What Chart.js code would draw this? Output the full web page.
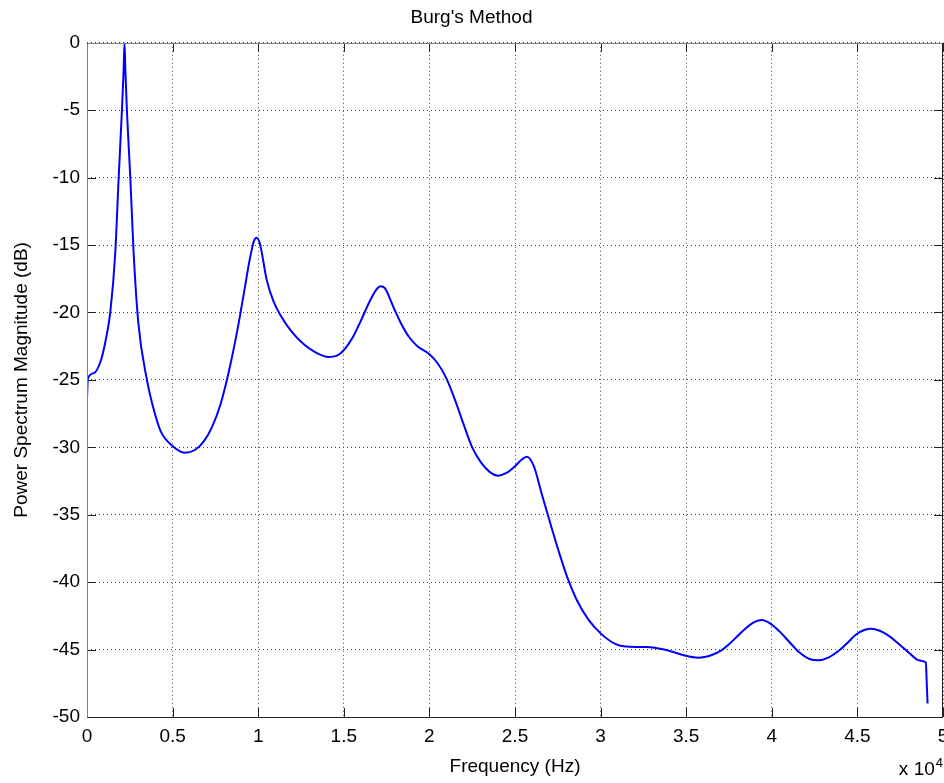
<!DOCTYPE html>
<html>
<head>
<meta charset="utf-8">
<title>Burg's Method</title>
<script src="https://cdn.jsdelivr.net/npm/chart.js@4.4.1/dist/chart.umd.min.js"></script>
<style>
  html, body { margin: 0; padding: 0; background: #fff; }
  #grafico { display: block; }
</style>
</head>
<body>
<canvas id="grafico" width="944" height="783"></canvas>
<script>
// frequencia em Hz (eixo mostrado em x 10^4)
const frequencias = [
    0, 50, 400, 800, 1100, 1360, 1650, 1850, 2040, 2140, 2190, 2240, 2330, 2530, 2720,
    3000, 3500, 3900, 4300, 5000, 5700, 6300, 6800, 7300, 7800, 8300, 8800, 9200, 9500, 9750,
    9900, 10100, 10500, 10900, 11300, 12000, 12700, 13400, 14100, 14600, 15000, 15500,
    16000, 16500, 16900, 17150, 17400, 17900, 18300, 18800, 19300, 20000, 20500, 21000, 21500,
    22000, 22500, 23000, 23500, 24000, 24500, 25000, 25400, 25700, 26100, 26550, 27100,
    27600, 28100, 28600, 29300, 30000, 30600, 31100, 32000, 32700, 33300, 33900, 34800,
    35700, 36500, 37000, 37500, 38000, 38500, 39000, 39400, 39900, 40450, 41000, 41600, 42200,
    42700, 43300, 44000, 44500, 44900, 45400, 45800, 46300, 46800, 47300, 47800, 48200,
    48600, 49000, 49050, 49100
];

// magnitude em dB
const magnitudes = [
    -26.4, -24.9, -24.5, -23.6, -22.0, -20.0, -15.6, -10.0, -5.0, -2.0, 0, -2.0, -5.0, -10.0, -15.5,
    -20.8, -25.0, -27.2, -28.8, -29.9, -30.4, -30.2, -29.6, -28.5, -26.8, -24.3, -21.2, -18.3, -16.1, -14.7,
    -14.45, -14.9, -17.6, -19.2, -20.2, -21.5, -22.4, -23.0, -23.3, -23.2, -22.8, -21.9,
    -20.6, -19.2, -18.3, -18.05, -18.2, -19.6, -20.7, -21.8, -22.5, -23.1, -23.8, -24.9, -26.5,
    -28.3, -30.0, -31.1, -31.8, -32.1, -31.9, -31.4, -30.9, -30.7, -31.4, -33.4, -35.8,
    -37.9, -39.8, -41.3, -42.8, -43.8, -44.4, -44.7, -44.8, -44.8, -44.9, -45.05, -45.4,
    -45.6, -45.4, -45.1, -44.6, -44.0, -43.4, -42.95, -42.8, -43.05, -43.65, -44.4, -45.2, -45.7,
    -45.8, -45.6, -45.0, -44.4, -43.9, -43.55, -43.45, -43.6, -43.95, -44.45, -45.0, -45.45,
    -45.8, -45.95, -47.5, -49.0
];

const ticksX = [0, 5000, 10000, 15000, 20000, 25000, 30000, 35000, 40000, 45000, 50000];
const ticksY = [-50, -45, -40, -35, -30, -25, -20, -15, -10, -5, 0];

const fonte = "'Liberation Sans', Arial, Helvetica, sans-serif";

const pontos = frequencias.map((f, i) => ({ x: f, y: magnitudes[i] }));

// moldura do eixo, ticks para dentro e o multiplicador x 10^4
const moldura = {
    id: 'moldura',
    afterDraw(chart) {
        const { ctx, chartArea: a, scales } = chart;
        const tam = 9;
        ctx.save();
        ctx.lineWidth = 1;

        // ticks internos
        ctx.strokeStyle = '#222';
        ctx.beginPath();
        ticksX.forEach(v => {
            const px = Math.round(scales.x.getPixelForValue(v)) + 0.5;
            ctx.moveTo(px, a.bottom); ctx.lineTo(px, a.bottom - tam);
            ctx.moveTo(px, a.top); ctx.lineTo(px, a.top + tam);
        });
        ticksY.forEach(v => {
            const py = Math.round(scales.y.getPixelForValue(v)) + 0.5;
            ctx.moveTo(a.left, py); ctx.lineTo(a.left + tam, py);
            ctx.moveTo(a.right, py); ctx.lineTo(a.right - tam, py);
        });
        ctx.stroke();

        // caixa
        const l = Math.round(a.left) + 0.5, r = Math.round(a.right) - 0.5;
        const t = Math.round(a.top) + 0.5, b = Math.round(a.bottom) + 0.5;
        ctx.strokeStyle = '#808080';
        ctx.beginPath();
        ctx.moveTo(l, b); ctx.lineTo(l, t); ctx.lineTo(r, t);
        ctx.stroke();
        ctx.strokeStyle = '#222';
        ctx.beginPath();
        ctx.moveTo(l, b); ctx.lineTo(r, b); ctx.lineTo(r, t);
        ctx.stroke();

        // x 10^4
        ctx.fillStyle = '#000';
        ctx.textBaseline = 'alphabetic';
        ctx.textAlign = 'right';
        ctx.font = '13px ' + fonte;
        ctx.fillText('4', 943, 767);
        const w4 = ctx.measureText('4').width;
        ctx.font = '19px ' + fonte;
        ctx.fillText('x 10', 943 - w4 - 1, 775);
        ctx.restore();
    }
};

new Chart(document.getElementById('grafico'), {
    type: 'line',
    data: {
        datasets: [{
            label: 'Burg',
            data: pontos,
            borderColor: '#0000ff',
            borderWidth: 2,
            pointRadius: 0,
            fill: false,
            cubicInterpolationMode: 'monotone'
        }]
    },
    options: {
        responsive: false,
        animation: false,
        layout: { padding: { top: 0, right: 1, bottom: 0, left: 0 } },
        plugins: {
            legend: { display: false },
            tooltip: { enabled: false },
            title: {
                display: true,
                text: "Burg's Method",
                color: '#000',
                font: { family: fonte, size: 19, weight: 'normal' },
                padding: { top: 6, bottom: 14 }
            }
        },
        scales: {
            x: {
                type: 'linear',
                min: 0,
                max: 50000,
                afterBuildTicks: s => { s.ticks = ticksX.map(v => ({ value: v })); },
                afterFit: s => {
                    s.height = 66;
                    s.paddingLeft = 0;
                    s.paddingRight = 0;
                },
                grid: {
                    color: '#444',
                    lineWidth: 1,
                    drawTicks: false
                },
                border: { display: false, dash: [1, 3] },
                ticks: {
                    color: '#000',
                    padding: 8,
                    font: { family: fonte, size: 19 },
                    maxRotation: 0,
                    callback: v => String(v / 10000)
                },
                title: {
                    display: true,
                    text: 'Frequency (Hz)',
                    color: '#000',
                    font: { family: fonte, size: 19 },
                    padding: { top: 0, bottom: 5 }
                }
            },
            y: {
                min: -50,
                max: 0,
                afterBuildTicks: s => { s.ticks = ticksY.map(v => ({ value: v })); },
                afterFit: s => { s.width = 87; },
                grid: {
                    color: '#444',
                    lineWidth: 1,
                    drawTicks: false
                },
                border: { display: false, dash: [1, 3] },
                ticks: {
                    color: '#000',
                    padding: 7,
                    font: { family: fonte, size: 19 }
                },
                title: {
                    display: true,
                    text: 'Power Spectrum Magnitude (dB)',
                    color: '#000',
                    font: { family: fonte, size: 19 },
                    padding: { top: 10, bottom: 0 }
                }
            }
        }
    },
    plugins: [moldura]
});
</script>
</body>
</html>
